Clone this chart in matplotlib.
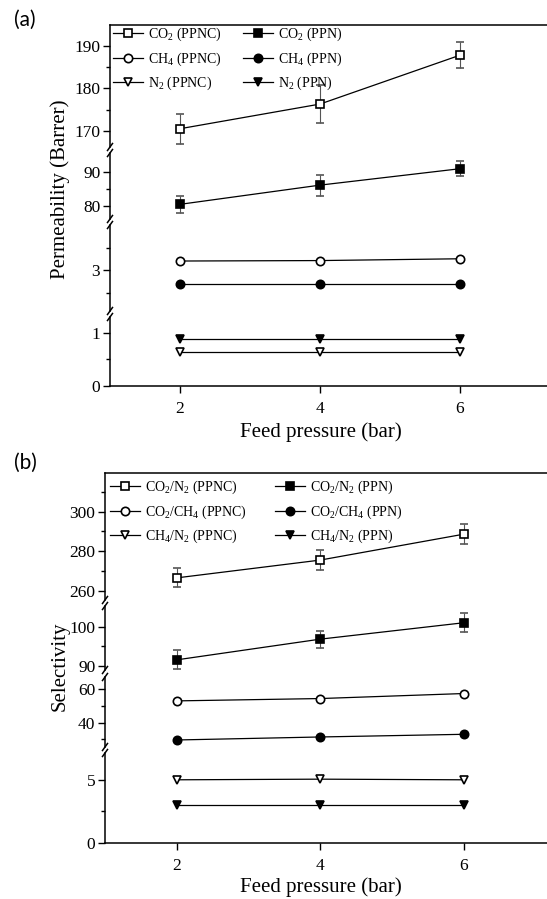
import matplotlib
matplotlib.use("Agg")
import matplotlib.pyplot as plt
from matplotlib.lines import Line2D
from matplotlib.ticker import FixedLocator

plt.rcParams['font.family'] = ['Liberation Serif', 'DejaVu Serif']
plt.rcParams['mathtext.fontset'] = 'custom'
plt.rcParams['mathtext.rm'] = 'Liberation Serif'
plt.rcParams['mathtext.it'] = 'Liberation Serif:italic'

# ---------------- data ----------------
pressure = [2, 4, 6]

# (a) permeability, Barrer
co2_ppnc = [170.5, 176.3, 187.8]
co2_ppnc_err = [3.5, 4.5, 3.0]
co2_ppn = [80.6, 86.1, 90.8]
co2_ppn_err = [2.5, 3.0, 2.2]
ch4_ppnc = [3.20, 3.21, 3.25]
ch4_ppn = [2.70, 2.70, 2.70]
n2_ppnc = [0.64, 0.64, 0.64]
n2_ppn = [0.88, 0.88, 0.88]

# (b) selectivity
co2n2_ppnc = [266.5, 275.5, 288.6]
co2n2_ppnc_err = [4.8, 5.0, 5.0]
co2n2_ppn = [91.5, 96.8, 101.0]
co2n2_ppn_err = [2.4, 2.2, 2.4]
co2ch4_ppnc = [53.0, 54.4, 57.4]
co2ch4_ppn = [29.6, 31.4, 33.0]
ch4n2_ppnc = [5.0, 5.05, 5.0]
ch4n2_ppn = [3.03, 3.03, 3.03]

W, H = 547, 899
fig = plt.figure(figsize=(W / 100, H / 100), dpi=100)


def px_axes(left, top, right, bottom):
    return fig.add_axes([left / W, 1 - bottom / H, (right - left) / W, (bottom - top) / H])


def broken_panel(left, xmax, segments):
    """segments: list of (top_px, bottom_px, ymin, ymax, majors, minors), top to bottom."""
    axes = []
    n = len(segments)
    for i, (top, bot, y0, y1, majors, minors) in enumerate(segments):
        ax = px_axes(left, top, W, bot)
        ax.set_facecolor('none')
        ax.set_xlim(1, xmax)
        ax.set_ylim(y0, y1)
        ax.spines['right'].set_visible(False)
        ax.spines['top'].set_visible(i == 0)
        ax.spines['bottom'].set_visible(i == n - 1)
        for s in ax.spines.values():
            s.set_linewidth(1.1)
        ax.yaxis.set_major_locator(FixedLocator(majors))
        ax.yaxis.set_minor_locator(FixedLocator(minors))
        ax.tick_params(axis='y', which='major', direction='out', length=5, width=1.0,
                       pad=2, labelsize=12.5)
        ax.tick_params(axis='y', which='minor', direction='out', length=3, width=1.0)
        if i == n - 1:
            ax.set_xticks([2, 4, 6])
            ax.tick_params(axis='x', direction='out', length=5, width=1.0, pad=6,
                           labelsize=12.5)
        else:
            ax.tick_params(axis='x', bottom=False, labelbottom=False)
        axes.append(ax)
    # break marks on the left spine
    for i in range(n - 1):
        yb = segments[i][1]
        yt = segments[i + 1][0]
        for yy in (yb, yt):
            fig.add_artist(Line2D([(left - 2.5) / W, (left + 2.5) / W],
                                  [1 - (yy + 3.5) / H, 1 - (yy - 3.5) / H],
                                  color='black', lw=1.1))
    return axes


line_kw = dict(color='black', lw=0.9, markersize=6, markeredgewidth=1.2,
               markeredgecolor='black')
err_kw = dict(ecolor='#555555', elinewidth=0.8, capsize=3, capthick=0.8)

# ---------------- panel (a) ----------------
seg_a = [
    (25, 147, 166.2, 194.9, [170, 180, 190], [175, 185]),
    (153, 219, 76.4, 95.3, [80, 90], [85]),
    (225, 311, 2.09, 4.0, [3], [2.5, 3.5]),
    (317, 386, 0, 1.29, [0, 1], [0.5]),
]
xa_max = 1 + (W - 110) / 70
axa = broken_panel(110, xa_max, seg_a)

h1 = axa[0].errorbar(pressure, co2_ppnc, yerr=co2_ppnc_err, marker='s',
                     markerfacecolor='white', **line_kw, **err_kw)
h2 = axa[1].errorbar(pressure, co2_ppn, yerr=co2_ppn_err, marker='s',
                     markerfacecolor='black', **line_kw, **err_kw)
h3, = axa[2].plot(pressure, ch4_ppnc, marker='o', markerfacecolor='white', **line_kw)
h4, = axa[2].plot(pressure, ch4_ppn, marker='o', markerfacecolor='black', **line_kw)
h5, = axa[3].plot(pressure, n2_ppnc, marker='v', markerfacecolor='white', **line_kw)
h6, = axa[3].plot(pressure, n2_ppn, marker='v', markerfacecolor='black', **line_kw)

leg_a = axa[0].legend(
    [h1[0], h3, h5, h2[0], h4, h6],
    [r'CO$_2$ (PPNC)', r'CH$_4$ (PPNC)', r'N$_2$ (PPNC)',
     r'CO$_2$ (PPN)', r'CH$_4$ (PPN)', r'N$_2$ (PPN)'],
    ncol=2, frameon=False, fontsize=10, handlelength=2.15, handletextpad=0.35,
    columnspacing=1.58, labelspacing=0.5, borderaxespad=0, borderpad=0,
    loc='upper left', bbox_to_anchor=(113 / W, 1 - 26 / H),
    bbox_transform=fig.transFigure)

fig.text(60 / W, 1 - 189 / H, 'Permeability (Barrer)', rotation=90,
         ha='center', va='center', fontsize=15)
fig.text(321 / W, 1 - 432 / H, 'Feed pressure (bar)', ha='center', va='center',
         fontsize=15)
fig.text(25 / W, 1 - 20 / H, '(a)', ha='center', va='center', fontsize=15,
         family=['Lato', 'DejaVu Sans'])

# ---------------- panel (b) ----------------
seg_b = [
    (473, 600, 255.3, 319.6, [260, 280, 300], [270, 290, 310]),
    (606, 670, 88.9, 105.3, [90, 100], [95]),
    (677, 747, 25.4, 67.3, [40, 60], [30, 50]),
    (753, 843, 0, 7.12, [0, 5], [2.5]),
]
xb_max = 1 + (W - 105) / 71.7
axb = broken_panel(105, xb_max, seg_b)

g1 = axb[0].errorbar(pressure, co2n2_ppnc, yerr=co2n2_ppnc_err, marker='s',
                     markerfacecolor='white', **line_kw, **err_kw)
g2 = axb[1].errorbar(pressure, co2n2_ppn, yerr=co2n2_ppn_err, marker='s',
                     markerfacecolor='black', **line_kw, **err_kw)
g3, = axb[2].plot(pressure, co2ch4_ppnc, marker='o', markerfacecolor='white', **line_kw)
g4, = axb[2].plot(pressure, co2ch4_ppn, marker='o', markerfacecolor='black', **line_kw)
g5, = axb[3].plot(pressure, ch4n2_ppnc, marker='v', markerfacecolor='white', **line_kw)
g6, = axb[3].plot(pressure, ch4n2_ppn, marker='v', markerfacecolor='black', **line_kw)

leg_b = axb[0].legend(
    [g1[0], g3, g5, g2[0], g4, g6],
    [r'CO$_2$/N$_2$ (PPNC)', r'CO$_2$/CH$_4$ (PPNC)', r'CH$_4$/N$_2$ (PPNC)',
     r'CO$_2$/N$_2$ (PPN)', r'CO$_2$/CH$_4$ (PPN)', r'CH$_4$/N$_2$ (PPN)'],
    ncol=2, frameon=False, fontsize=10, handlelength=2.15, handletextpad=0.4,
    columnspacing=2.0, labelspacing=0.52, borderaxespad=0, borderpad=0,
    loc='upper left', bbox_to_anchor=(110 / W, 1 - 479 / H),
    bbox_transform=fig.transFigure)

fig.text(60 / W, 1 - 666 / H, 'Selectivity', rotation=90,
         ha='center', va='center', fontsize=15)
fig.text(321 / W, 1 - 887 / H, 'Feed pressure (bar)', ha='center', va='center',
         fontsize=15)
fig.text(25 / W, 1 - 463 / H, '(b)', ha='center', va='center', fontsize=15,
         family=['Lato', 'DejaVu Sans'])

fig.savefig('out.png', dpi=100)
